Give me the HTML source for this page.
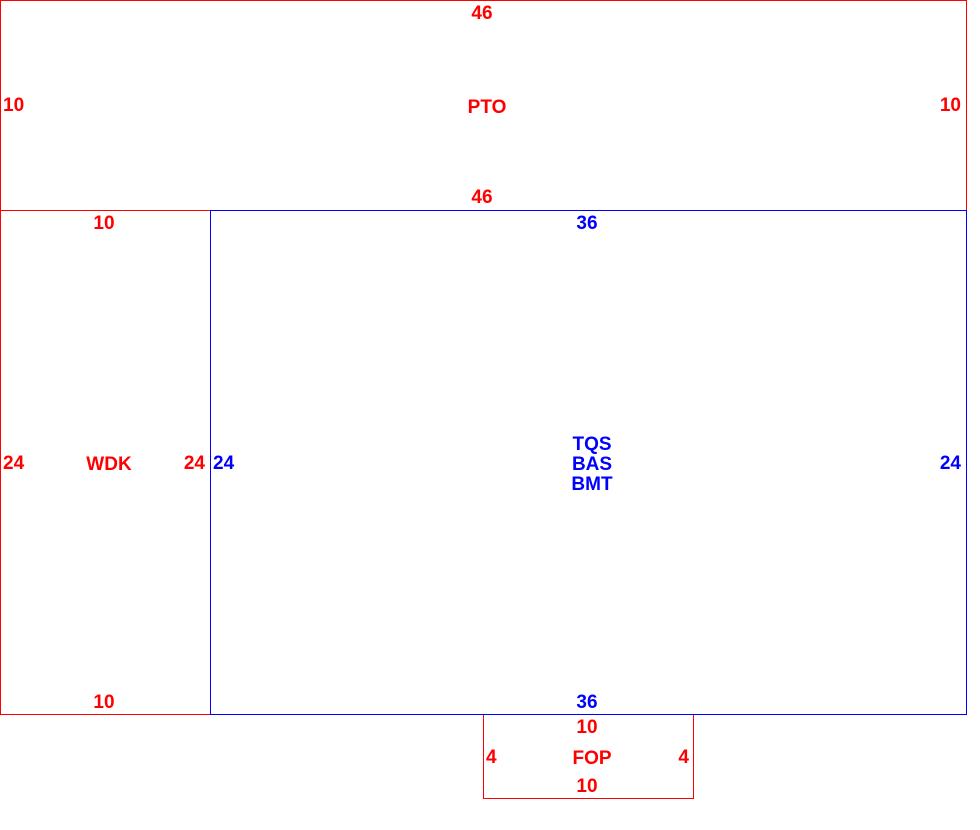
<!DOCTYPE html>
<html><head><style>
html,body{margin:0;padding:0;background:#fff;}
svg{display:block;}
text{font-family:"Liberation Sans",Arial,sans-serif;font-weight:bold;font-size:19px;}
.r{fill:#f00;} .b{fill:#00f;}
</style></head><body>
<svg width="980" height="830" viewBox="0 0 980 830" xmlns="http://www.w3.org/2000/svg">
<rect x="0.5" y="0.5" width="966" height="210" fill="none" stroke="#f00" stroke-width="1"/>
<rect x="0.5" y="210.5" width="210" height="504" fill="none" stroke="#f00" stroke-width="1"/>
<rect x="483.5" y="714.5" width="210" height="84" fill="none" stroke="#f00" stroke-width="1"/>
<rect x="210.5" y="210.5" width="756" height="504" fill="none" stroke="#00f" stroke-width="1"/>

<text class="r" x="482" y="19" text-anchor="middle">46</text>
<text class="r" x="3" y="111">10</text>
<text class="r" x="961" y="111" text-anchor="end">10</text>
<text class="r" x="487" y="113" text-anchor="middle">PTO</text>
<text class="r" x="482" y="203" text-anchor="middle">46</text>

<text class="r" x="104" y="229" text-anchor="middle">10</text>
<text class="r" x="3" y="469">24</text>
<text class="r" x="109" y="470" text-anchor="middle">WDK</text>
<text class="r" x="205" y="469" text-anchor="end">24</text>
<text class="r" x="104" y="708" text-anchor="middle">10</text>

<text class="b" x="587" y="229" text-anchor="middle">36</text>
<text class="b" x="213" y="469">24</text>
<text class="b" x="961" y="469" text-anchor="end">24</text>
<text class="b" x="592" y="450" text-anchor="middle">TQS</text>
<text class="b" x="592" y="470" text-anchor="middle">BAS</text>
<text class="b" x="592" y="490" text-anchor="middle">BMT</text>
<text class="b" x="587" y="708" text-anchor="middle">36</text>

<text class="r" x="587" y="733" text-anchor="middle">10</text>
<text class="r" x="486" y="763">4</text>
<text class="r" x="689" y="763" text-anchor="end">4</text>
<text class="r" x="592" y="764" text-anchor="middle">FOP</text>
<text class="r" x="587" y="792" text-anchor="middle">10</text>
</svg>
</body></html>
